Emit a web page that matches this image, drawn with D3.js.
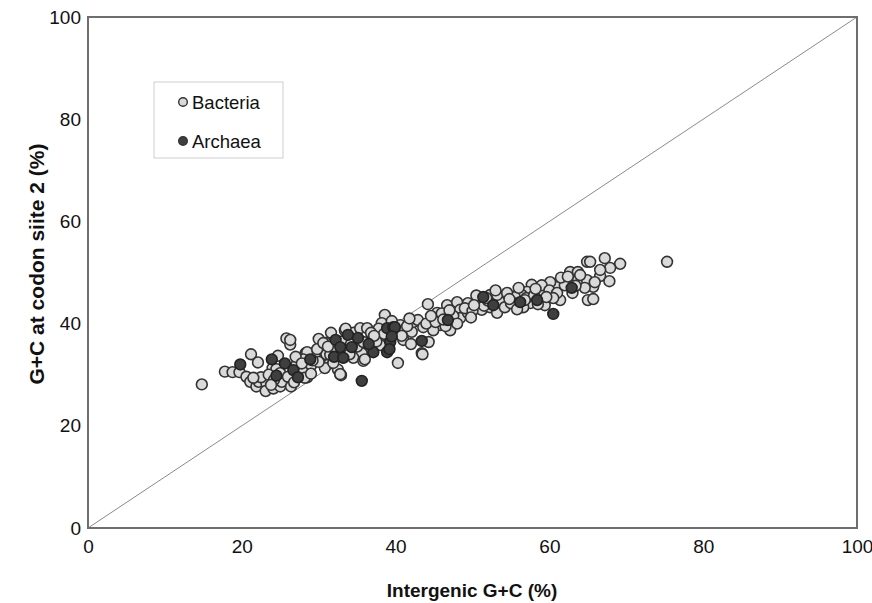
<!DOCTYPE html>
<html><head><meta charset="utf-8">
<script src="https://cdn.jsdelivr.net/npm/d3@7"></script>
<style>
body{margin:0;background:#fff;}
svg text{font-family:"Liberation Sans",Arial,sans-serif;}
</style></head>
<body><svg id="c" width="872" height="603"></svg>
<script>
const xTicks=[0,20,40,60,80,100];
const yTicks=[0,20,40,60,80,100];
const seriesNames=["Bacteria","Archaea"];
const bacteria=[
[14.8,28.1],[17.8,30.6],[18.8,30.5],[19.7,30.5],[20.6,29.6],[21.2,34.0],[22.1,32.4],[21.1,28.6],[21.9,27.7],[22.2,28.6],
[23.2,28.3],[23.1,26.8],[24.1,27.3],[25.0,27.7],[25.2,28.6],[24.7,33.7],[24.0,31.3],[24.5,31.1],[25.0,30.3],[26.0,29.6],
[25.8,37.1],[26.3,35.9],[27.1,31.9],[26.4,27.7],[22.5,29.5],[23.5,30.0],[24.2,29.0],[26.8,28.5],[27.5,30.5],[28.0,31.0],
[28.3,34.2],[28.5,29.5],[29.0,31.8],[29.8,34.8],[30.0,37.0],[30.9,36.2],[31.6,38.2],[30.3,32.8],[31.4,32.2],[30.8,31.3],
[29.5,33.5],[31.0,34.0],[32.5,31.0],[32.8,30.1],[32.9,29.9],[28.5,34.4],[30.0,32.5],[26.3,36.8],[29.8,35.0],[30.6,36.2],
[33.4,38.7],[33.7,37.2],[34.5,38.2],[35.4,39.1],[36.3,39.1],[35.6,34.2],[36.9,37.8],[36.7,36.2],[38.0,35.8],[38.2,37.8],
[40.2,38.2],[34.5,33.3],[31.5,33.9],[31.9,32.3],[38.6,41.7],[38.2,40.1],[40.6,39.7],[28.0,30.5],[28.2,29.4],[40.3,32.3],
[35.8,32.7],[44.2,43.8],[43.4,34.2],[44.3,36.4],[41.0,36.8],[41.2,38.7],[42.1,38.4],[42.3,40.3],[42.9,40.7],[43.6,39.3],
[45.4,42.1],[45.8,39.7],[46.7,43.6],[47.1,38.7],[48.0,44.2],[48.4,42.7],[48.4,41.1],[49.4,42.1],[49.4,44.0],[50.6,44.0],
[52.3,45.6],[51.2,42.7],[52.3,43.2],[53.2,42.1],[44.9,38.7],[62.7,50.1],[63.7,50.1],[63.7,48.5],[64.9,48.5],[62.0,48.5],
[61.0,47.2],[60.1,48.1],[59.7,46.2],[58.8,46.6],[57.7,47.6],[57.1,46.2],[56.4,45.6],[55.5,45.2],[55.1,44.2],[54.2,45.0],
[53.6,44.2],[54.2,43.2],[53.2,45.6],[64.9,52.1],[65.0,44.6],[65.7,44.8],[57.5,44.0],[59.4,43.6],[61.4,44.6],[56.6,43.2],
[75.3,52.1],[67.2,52.8],[69.2,51.7],[67.9,50.9],[66.6,49.3],[67.8,48.3],[65.7,47.2],[65.3,52.1],[65.9,48.1],[66.6,50.5],
[64.6,47.0],[64.0,49.5],[33.0,36.5],[34.0,34.0],[35.0,35.5],[36.0,33.0],[37.5,36.5],[37.8,39.0],[36.8,38.2],[34.8,36.8],
[33.5,39.0],[32.0,35.2],[31.2,35.5],[29.2,32.8],[28.0,33.0],[27.0,33.5],[38.5,38.0],[39.5,40.5],[40.8,37.6],[41.5,39.5],
[42.0,36.0],[41.8,41.0],[44.0,40.0],[45.0,41.0],[46.0,42.0],[46.5,39.5],[47.5,41.5],[48.0,40.0],[49.0,43.0],[50.0,42.5],
[50.5,45.5],[51.5,43.5],[52.0,44.5],[53.0,46.5],[54.5,46.0],[55.0,44.0],[56.0,47.0],[57.0,45.0],[58.0,45.5],[59.0,47.5],
[60.0,46.5],[61.0,46.0],[62.0,47.5],[63.0,46.0],[61.5,49.0],[60.5,45.0],[58.5,43.8],[55.8,42.8],[43.5,34.0],[32.8,30.1],
[45.2,40.3],[47.0,42.6],[50.2,43.6],[51.8,45.0],[54.8,44.8],[56.8,44.6],[58.2,46.8],[59.6,45.2],[62.4,49.2],[63.4,47.4],
[44.6,41.5],[46.2,40.8],[49.8,41.2],[37.2,37.6],[35.8,36.4],[34.2,36.0],[29.0,30.2],[27.8,32.2],[23.8,28.0],[21.5,29.4]
];
const archaea=[
[19.8,32.0],[23.9,33.0],[25.6,32.2],[26.7,30.9],[27.3,29.5],[24.5,29.8],[28.9,33.0],[32.2,36.8],[32.0,33.5],[32.8,35.4],
[34.3,35.4],[35.1,37.2],[37.1,34.4],[38.9,34.4],[39.3,36.4],[38.9,39.1],[39.7,39.3],[33.2,33.3],[35.6,28.8],[39.9,39.3],
[39.5,37.5],[39.2,35.0],[43.4,36.6],[46.8,40.7],[51.4,45.2],[52.7,43.6],[56.2,44.2],[58.4,44.6],[62.9,47.0],[60.5,41.9],
[36.5,36.0],[33.8,37.8]
];

const svg=d3.select("#c");
const L=88,R=857,T=17,B=528;
const x=d3.scaleLinear().domain([0,100]).range([L,R]);
const y=d3.scaleLinear().domain([0,100]).range([B,T]);

svg.append("line").attr("x1",x(0)).attr("y1",y(0)).attr("x2",x(100)).attr("y2",y(100))
  .attr("stroke","#8a8a8a").attr("stroke-width",1);

const xa=svg.append("g").attr("transform",`translate(0,${B})`)
  .call(d3.axisBottom(x).tickValues(xTicks).tickSize(0).tickPadding(12));
const ya=svg.append("g").attr("transform",`translate(${L},0)`)
  .call(d3.axisLeft(y).tickValues(yTicks).tickSize(0).tickPadding(7));
[xa,ya].forEach(g=>{g.select(".domain").remove();
  g.selectAll("text").attr("font-size",19).attr("fill","#111")
   .attr("font-family","'Liberation Sans',Arial,sans-serif");});

svg.append("rect").attr("x",L).attr("y",T).attr("width",R-L).attr("height",B-T)
  .attr("fill","none").attr("stroke","#6e6e6e").attr("stroke-width",2);

const pts=svg.append("g");
pts.selectAll("circle.b").data(bacteria).join("circle").attr("class","b")
  .attr("cx",d=>x(d[0])).attr("cy",d=>y(d[1])).attr("r",5.4)
  .attr("fill","#dadada").attr("stroke","#333").attr("stroke-width",1.6);
pts.selectAll("circle.a").data(archaea).join("circle").attr("class","a")
  .attr("cx",d=>x(d[0])).attr("cy",d=>y(d[1])).attr("r",5.4)
  .attr("fill","#3f3f3f").attr("stroke","#222").attr("stroke-width",1.6);

const lg=svg.append("g");
lg.append("rect").attr("x",154).attr("y",82).attr("width",129).attr("height",76)
  .attr("fill","#fff").attr("stroke","#cfcfcf").attr("stroke-width",1);
const fills=["#dadada","#3f3f3f"];
seriesNames.forEach((n,i)=>{
  const cy=102+i*39;
  lg.append("circle").attr("cx",183).attr("cy",cy).attr("r",4.3)
    .attr("fill",fills[i]).attr("stroke","#333").attr("stroke-width",1.4);
  lg.append("text").attr("x",192).attr("y",cy+6.5).attr("font-size",18.5).attr("fill","#111").text(n);
});

svg.append("text").attr("x",472).attr("y",597).attr("text-anchor","middle")
  .attr("font-size",19).attr("font-weight","bold").attr("fill","#111").text("Intergenic G+C (%)");
svg.append("text").attr("transform","translate(44,264) rotate(-90)").attr("text-anchor","middle")
  .attr("font-size",21).attr("font-weight","bold").attr("fill","#111").text("G+C at codon siite 2 (%)");
</script></body></html>
